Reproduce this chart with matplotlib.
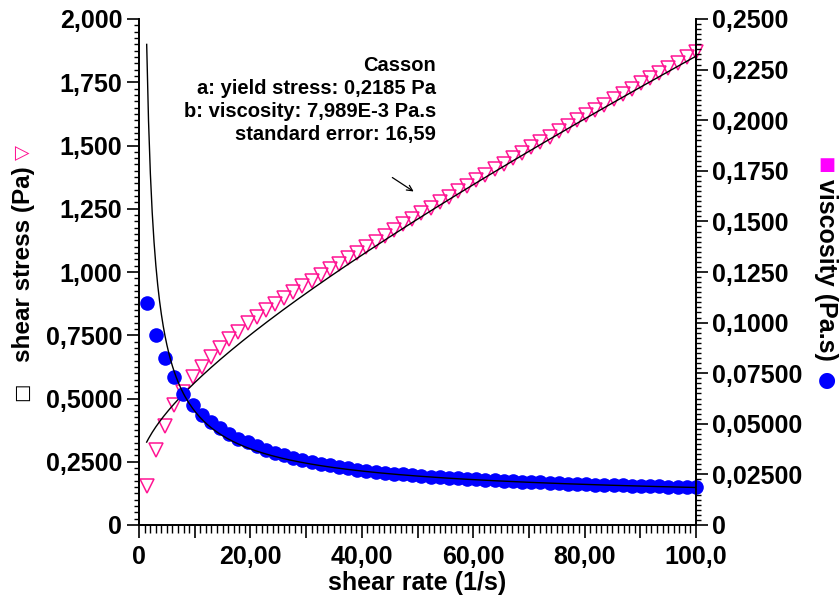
import numpy as np
import matplotlib
matplotlib.use("Agg")
import matplotlib.pyplot as plt
from matplotlib.ticker import MultipleLocator, FixedLocator, FixedFormatter

plt.rcParams['font.family'] = ['Liberation Sans', 'DejaVu Sans']
plt.rcParams['font.weight'] = 'bold'

# shear rate (1/s)
shear_rate = [1.40, 3.04, 4.69, 6.33, 7.97, 9.62, 11.26, 12.90, 14.55, 16.19,
              17.83, 19.48, 21.12, 22.76, 24.41, 26.05, 27.69, 29.34, 30.98, 32.62,
              34.27, 35.91, 37.55, 39.20, 40.84, 42.48, 44.13, 45.77, 47.41, 49.06,
              50.70, 52.34, 53.98, 55.63, 57.27, 58.91, 60.56, 62.20, 63.84, 65.49,
              67.13, 68.77, 70.42, 72.06, 73.70, 75.35, 76.99, 78.63, 80.28, 81.92,
              83.56, 85.21, 86.85, 88.49, 90.14, 91.78, 93.42, 95.06, 96.71, 98.35,
              100.0]

# shear stress (Pa)
shear_stress = [0.155, 0.296, 0.392, 0.474, 0.527, 0.586, 0.626, 0.663, 0.698, 0.734,
                0.764, 0.798, 0.824, 0.849, 0.874, 0.898, 0.921, 0.944, 0.965, 0.987,
                1.010, 1.032, 1.055, 1.077, 1.099, 1.120, 1.143, 1.166, 1.188, 1.210,
                1.232, 1.253, 1.275, 1.297, 1.319, 1.341, 1.363, 1.385, 1.406, 1.428,
                1.450, 1.471, 1.493, 1.514, 1.535, 1.557, 1.578, 1.599, 1.620, 1.641,
                1.662, 1.683, 1.704, 1.725, 1.746, 1.766, 1.787, 1.808, 1.828, 1.849,
                1.870]

# viscosity (Pa.s)
viscosity = [0.1098, 0.0939, 0.0824, 0.0730, 0.0648, 0.0595, 0.0544, 0.0511, 0.0478, 0.0451,
             0.0426, 0.0408, 0.0388, 0.0372, 0.0357, 0.0344, 0.0332, 0.0321, 0.0311, 0.0302,
             0.0294, 0.0287, 0.0280, 0.0274, 0.0268, 0.0263, 0.0258, 0.0254, 0.0250, 0.0246,
             0.0242, 0.0239, 0.0236, 0.0233, 0.0230, 0.0227, 0.0225, 0.0222, 0.0220, 0.0218,
             0.0216, 0.0214, 0.0212, 0.0210, 0.0208, 0.0206, 0.0205, 0.0203, 0.0202, 0.0200,
             0.0199, 0.0197, 0.0196, 0.0195, 0.0194, 0.0192, 0.0191, 0.0190, 0.0189, 0.0188,
             0.0187]

# Casson fit parameters
casson_a = 0.2185      # yield stress, Pa
casson_b = 7.989e-3    # viscosity, Pa.s

left_ticks = [0, 0.25, 0.5, 0.75, 1.0, 1.25, 1.5, 1.75, 2.0]
left_labels = ['0', '0,2500', '0,5000', '0,7500', '1,000', '1,250', '1,500', '1,750', '2,000']
right_ticks = [0, 0.025, 0.05, 0.075, 0.1, 0.125, 0.15, 0.175, 0.2, 0.225, 0.25]
right_labels = ['0', '0,02500', '0,05000', '0,07500', '0,1000', '0,1250', '0,1500',
                '0,1750', '0,2000', '0,2250', '0,2500']
x_ticks = [0, 10, 20, 30, 40, 50, 60, 70, 80, 90, 100]
x_labels = ['0', '', '20,00', '', '40,00', '', '60,00', '', '80,00', '', '100,0']

pink = '#FF1493'
blue = '#0000FF'

fig = plt.figure(figsize=(8.4, 6.03), dpi=100)
ax = fig.add_axes([139 / 840, 1 - 525 / 603, 557 / 840, 506 / 603])
ax2 = ax.twinx()

fit_rate = np.linspace(1.38, 100, 300)
fit_stress = (np.sqrt(casson_a) + np.sqrt(casson_b * fit_rate)) ** 2

ax.plot(shear_rate, shear_stress, linestyle='none', marker='v', markersize=10,
        markerfacecolor='none', markeredgecolor=pink, markeredgewidth=1.1, clip_on=False)
ax.plot(fit_rate, fit_stress, color='black', linewidth=1.0, zorder=4)

ax2.plot(shear_rate, viscosity, linestyle='none', marker='o', markersize=10.5,
         color=blue, markeredgewidth=0, clip_on=False)
ax2.plot(fit_rate, fit_stress / fit_rate, color='black', linewidth=1.0, zorder=4)

ax.set_xlim(0, 100)
ax.set_ylim(0, 2.0)
ax2.set_ylim(0, 0.25)

ax.xaxis.set_major_locator(FixedLocator(x_ticks))
ax.xaxis.set_major_formatter(FixedFormatter(x_labels))
ax.xaxis.set_minor_locator(MultipleLocator(1))

ax.yaxis.set_major_locator(FixedLocator(left_ticks))
ax.yaxis.set_major_formatter(FixedFormatter(left_labels))
ax.yaxis.set_minor_locator(MultipleLocator(0.025))
ax2.yaxis.set_major_locator(FixedLocator(right_ticks))
ax2.yaxis.set_major_formatter(FixedFormatter(right_labels))
ax2.yaxis.set_minor_locator(MultipleLocator(0.0025))

for a in (ax, ax2):
    a.spines['top'].set_visible(False)
    for s in ('left', 'right', 'bottom'):
        a.spines[s].set_linewidth(1.3)

ax.tick_params(axis='y', which='major', length=8.6, width=1.2, labelsize=18, pad=3.4)
ax.tick_params(axis='y', which='minor', length=3.6, width=1.0)
ax.tick_params(axis='x', which='major', length=9.4, width=1.2, labelsize=18, pad=5)
ax.tick_params(axis='x', which='minor', length=5.8, width=1.0)
ax2.tick_params(axis='y', which='major', length=8.6, width=1.2, labelsize=18, pad=3)
ax2.tick_params(axis='y', which='minor', length=3.6, width=1.0)

# axis titles with the series symbols
fig.text(417 / 840, 1 - 583 / 603, 'shear rate (1/s)', ha='center', va='center',
         fontsize=18, fontweight='bold')
fig.text(24 / 840, 1 - 264 / 603, 'shear stress (Pa)', ha='center', va='center',
         rotation=90, fontsize=17.5, fontweight='bold')
fig.text(22 / 840, 1 - 392 / 603, '□', ha='center', va='center', rotation=90,
         fontsize=14, fontweight='normal', family=['DejaVu Sans'])
fig.text(22 / 840, 1 - 152 / 603, '▽', ha='center', va='center', rotation=90,
         fontsize=14, fontweight='normal', color=pink, family=['DejaVu Sans'])
fig.text(826 / 840, 1 - 270 / 603, 'viscosity (Pa.s)', ha='center', va='center',
         rotation=270, fontsize=18, fontweight='bold')
fig.text(827 / 840, 1 - 165 / 603, '■', ha='center', va='center',
         fontsize=13, color='#FF00FF', family=['DejaVu Sans'])
fig.text(827 / 840, 1 - 380 / 603, '●', ha='center', va='center',
         fontsize=15, color=blue, family=['DejaVu Sans'])

# fit annotation
fig.text(436 / 840, 1 - 100 / 603,
         'Casson\na: yield stress: 0,2185 Pa\nb: viscosity: 7,989E-3 Pa.s\nstandard error: 16,59',
         ha='right', va='center', multialignment='right', fontsize=14.5,
         fontweight='bold', linespacing=1.25)
ax.annotate('', xy=(416, 603 - 193), xycoords='figure pixels',
            xytext=(390, 603 - 176), textcoords='figure pixels',
            arrowprops=dict(arrowstyle='->', color='black', linewidth=0.9))

fig.savefig('out.png', dpi=100)
